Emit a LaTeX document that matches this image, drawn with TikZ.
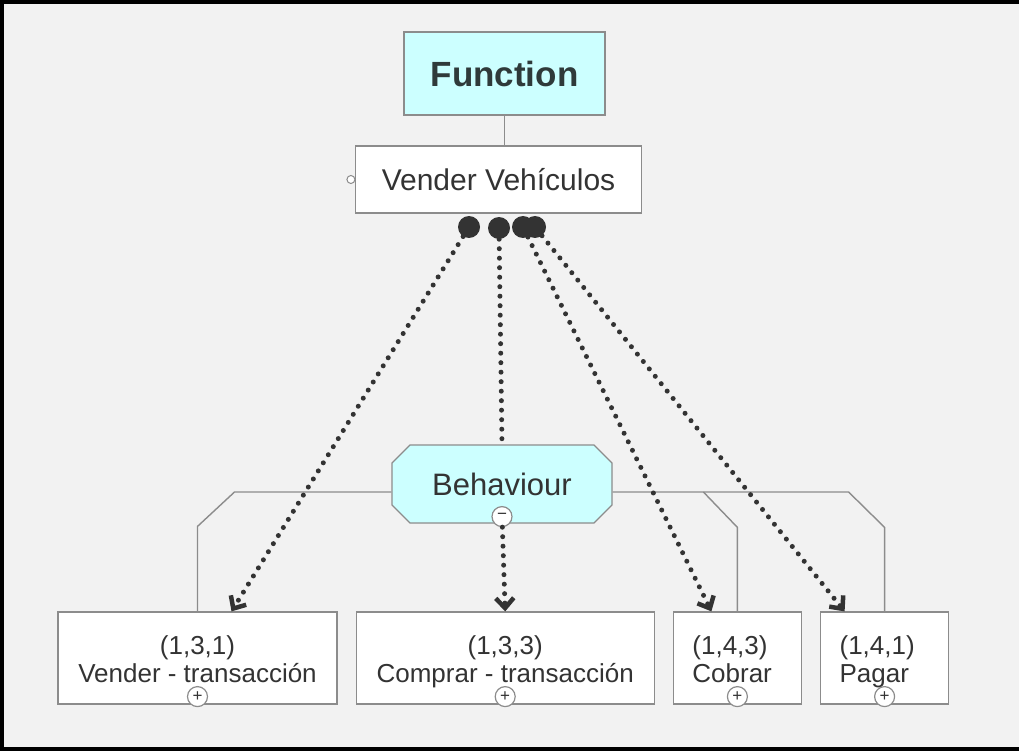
\documentclass[tikz,border=0pt]{standalone}
\usepackage{fontspec}
\setmainfont{Liberation Sans}
\usepackage{xcolor}
\usepackage{tikz}
\usetikzlibrary{arrows.meta,positioning,shapes.misc,calc}

\definecolor{bgray}{HTML}{F2F2F2}
\definecolor{lcyan}{HTML}{CCFFFF}
\definecolor{edge}{HTML}{8C8C8C}
\definecolor{ink}{HTML}{333333}
\definecolor{slate}{HTML}{2F3A3A}

\begin{document}
\begin{tikzpicture}[
  x=1pt,y=-1pt,
  node distance=31pt and 18pt,
  box/.style={draw=edge,line width=1.2pt,fill=white,inner sep=0pt,
              align=center,text=ink},
  funbox/.style={box,fill=lcyan,minimum width=201pt,minimum height=83pt,
                 font=\fontsize{35}{40}\selectfont\bfseries,text=slate},
  behbox/.style={box,fill=lcyan,chamfered rectangle,
                 chamfered rectangle xsep=9pt,chamfered rectangle ysep=9pt,
                 minimum width=220pt,minimum height=78pt,
                 font=\fontsize{31}{34}\selectfont},
  tbox/.style={box,minimum height=92pt,font=\fontsize{26}{28}\selectfont,
               text height=20pt,text depth=28pt,minimum width=#1,text width=#1-20pt,
               align=flush center},
  sbox/.style={tbox=128pt,text width=90pt,align=flush left},
  knob/.style={circle,draw=edge,line width=1.2pt,fill=white,minimum size=20pt,
               inner sep=0pt,text=ink,font=\fontsize{17}{17}\selectfont},
  blob/.style={circle,fill=ink,minimum size=22pt,inner sep=0pt},
  tree/.style={draw=edge,line width=1.4pt},
  dots/.style={ink,line width=5pt,line cap=round,dash pattern=on 0pt off 9.5pt},
  arr/.style={dots,-{Straight Barb[length=10pt,width=18pt,line width=4.5pt]}}
]
\useasboundingbox (0,0) rectangle (1019,751);
\fill[bgray] (0,0) rectangle (1019,751);
\draw[black,line width=4pt] (1019,2) -- (2,2) -- (2,749) -- (1019,749);

% top of the tree
\node[funbox] (fun) at (504.5,73.5) {Function};
\node[box,minimum width=286pt,minimum height=67pt,
      font=\fontsize{30}{34}\selectfont] (vend) at (498.5,179.5) {Vender Vehículos};
\node[circle,draw=edge,fill=white,line width=1pt,minimum size=8pt,inner sep=0pt]
  (port) at ([xshift=-4]vend.west) {};
\draw[tree] (fun.south) -- (fun.south |- vend.north);

% behaviour and the transactions
\node[behbox] (beh) at (502,484) {Behaviour};
\node[knob] (minus) at ([yshift=7]beh.south) {−};
\coordinate (bar) at (0,492);

\node[tbox=279pt] (t131) at (197.5,658) {(1,3,1)\\Vender - transacción};
\node[tbox=298pt,right=of t131] (t133) {(1,3,3)\\Comprar - transacción};
\node[sbox,right=of t133] (t143) {(1,4,3)\\Cobrar};
\node[sbox,right=of t143] (t141) {(1,4,1)\\Pagar};

\foreach \t in {t131,t133,t143,t141}
  \node[knob] (plus-\t) at ([yshift=8]\t.south) {+};

\draw[tree] (beh.west |- bar) -- ($(t131.north |- bar)+(37,0)$)
  -- ($(t131.north)+(0,-85)$) -- (t131.north);
\draw[tree] (beh.east |- bar) -- ($(t141.north |- bar)+(-36,0)$)
  -- ($(t141.north)+(0,-84)$) -- (t141.north);
\draw[tree] ($(t143.north |- bar)+(-34,0)$) -- ($(t143.north)+(0,-84)$) -- (t143.north);

% links from the function
\node[blob] (d1) at (469,227) {};
\node[blob] (d2) at (499,228) {};
\node[blob] (d3) at (523,227) {};
\node[blob] (d4) at (535,227) {};

\draw[arr] (d1) -- ([xshift=34]t131.north);
\draw[dots] (d2) -- (beh.north);
\draw[arr] (minus) -- (t133.north);
\draw[arr] (d3) -- ([xshift=-26]t143.north);
\draw[arr] (d4) -- ([xshift=-40]t141.north);
\end{tikzpicture}
\end{document}
